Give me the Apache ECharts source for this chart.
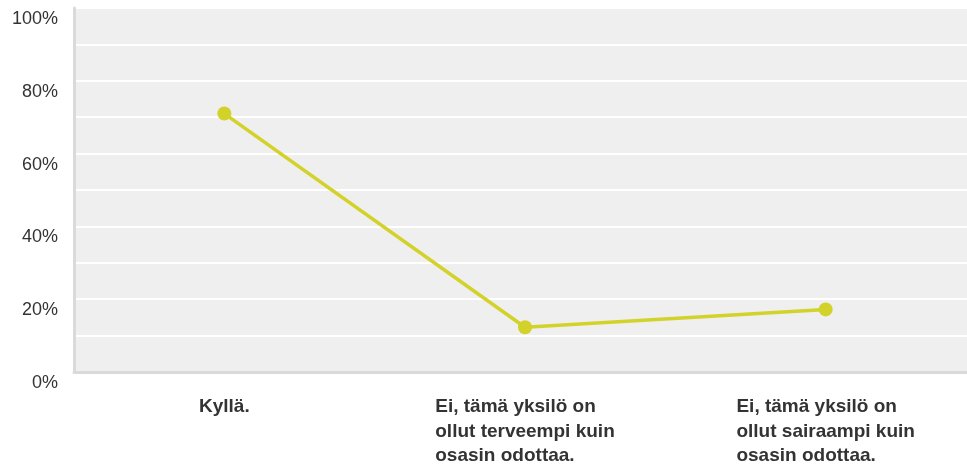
<!DOCTYPE html>
<html>
<head>
<meta charset="utf-8">
<script src="https://cdn.jsdelivr.net/npm/echarts@6/dist/echarts.min.js"></script>
<style>
html,body{margin:0;padding:0;background:#fff;}
#chart{width:967px;height:471px;}
</style>
</head>
<body>
<div id="chart"></div>
<script>
const categories = [
  'Kyllä.',
  'Ei, tämä yksilö on\nollut terveempi kuin\nosasin odottaa.',
  'Ei, tämä yksilö on\nollut sairaampi kuin\nosasin odottaa.'
];
const values = [71, 12.3, 17.2];
const yTickLabels = ['0%', '20%', '40%', '60%', '80%', '100%'];

const chart = echarts.init(document.getElementById('chart'), null, {renderer: 'canvas'});
chart.setOption({
  animation: false,
  backgroundColor: '#ffffff',
  grid: {
    left: 74, width: 902, top: 8, height: 364,
    outerBoundsMode: 'none',
    containLabel: false,
    show: true, backgroundColor: '#efefef', borderWidth: 0
  },
  xAxis: {
    type: 'category',
    data: categories,
    boundaryGap: true,
    axisLine: {show: true, lineStyle: {color: '#dadada', width: 3}},
    axisTick: {show: false},
    splitLine: {show: false},
    axisLabel: {
      margin: 23,
      interval: 0,
      formatter: v => v.split('\n').map(l => '{a|' + l + '}').join('\n'),
      rich: {
        a: {align: 'left', fontFamily: 'Liberation Sans, Arial, sans-serif', fontWeight: 'bold', fontSize: 19, lineHeight: 24.5, color: '#333333'}
      }
    }
  },
  yAxis: {
    type: 'value',
    min: 0, max: 100, interval: 10,
    axisLine: {show: true, lineStyle: {color: '#dadada', width: 3}},
    axisTick: {show: false},
    splitLine: {show: true, lineStyle: {color: '#ffffff', width: 2}},
    axisLabel: {
      margin: 16,
      verticalAlign: 'top',
      padding: [2, 0, 0, 0],
      fontFamily: 'Liberation Sans, Arial, sans-serif',
      fontSize: 18,
      color: '#333333',
      formatter: v => (v % 20 === 0 ? yTickLabels[v / 20] : '')
    }
  },
  series: [{
    type: 'line',
    data: values,
    symbol: 'circle',
    symbolSize: 14,
    lineStyle: {color: '#d2d22a', width: 3.5},
    itemStyle: {color: '#d2d22a'}
  }]
});
</script>
</body>
</html>
